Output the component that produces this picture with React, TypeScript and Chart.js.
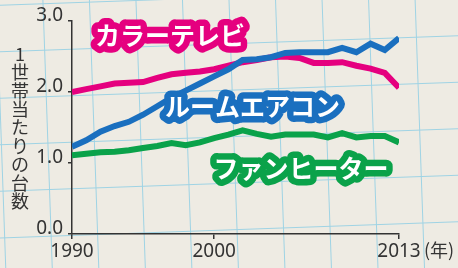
import React, { useEffect, useRef } from "react";
import { Chart, registerables } from "chart.js";

Chart.register(...registerables);

// ---- data ----
const years = [
  1990, 1991, 1992, 1993, 1994, 1995, 1996, 1997, 1998, 1999, 2000, 2001,
  2002, 2003, 2004, 2005, 2006, 2007, 2008, 2009, 2010, 2011, 2012, 2013,
];
const colorTV = [
  2.0, 2.04, 2.08, 2.12, 2.13, 2.14, 2.2, 2.25, 2.27, 2.29, 2.32, 2.37,
  2.42, 2.45, 2.49, 2.5, 2.48, 2.41, 2.41, 2.42, 2.37, 2.33, 2.27, 2.06,
];
const airConditioner = [
  1.23, 1.32, 1.44, 1.52, 1.58, 1.68, 1.8, 1.92, 2.02, 2.12, 2.22, 2.32,
  2.45, 2.46, 2.49, 2.55, 2.56, 2.56, 2.56, 2.62, 2.56, 2.68, 2.59, 2.76,
];
const fanHeater = [
  1.11, 1.13, 1.15, 1.16, 1.18, 1.21, 1.24, 1.28, 1.25, 1.29, 1.35, 1.4,
  1.46, 1.41, 1.37, 1.4, 1.4, 1.4, 1.36, 1.42, 1.36, 1.38, 1.38, 1.29,
];
const seriesNames = ["カラーテレビ", "ルームエアコン", "ファンヒーター"];
const xTickValues = [1990, 2000, 2013];
const yTickValues = [0, 1, 2, 3];
const yTitle = "1世帯当たりの台数";
const xUnit = "(年)";

// ---- styles ----
const PINK = "#e5007f";
const BLUE = "#1a6fbf";
const GREEN = "#0aa24a";
const INK = "#333333";

// label anchors in data coordinates (year, value)
const labelAnchors = [
  { x: 1996.9, y: 2.8, color: PINK },
  { x: 2002.7, y: 1.8, color: BLUE },
  { x: 2006.1, y: 0.92, color: GREEN },
];

const paperPlugin = {
  id: "paper",
  beforeDraw(chart: any) {
    const { ctx, width, height } = chart;
    ctx.save();
    ctx.fillStyle = "#eeebe3";
    ctx.fillRect(0, 0, width, height);
    ctx.translate(96, 188);
    ctx.rotate(-0.035);
    ctx.strokeStyle = "#9fd3e4";
    ctx.lineWidth = 1;
    const s = 46.5;
    for (let k = -14; k <= 14; k++) {
      ctx.beginPath();
      ctx.moveTo(k * s, -700);
      ctx.lineTo(k * s, 700);
      ctx.stroke();
      ctx.beginPath();
      ctx.moveTo(-700, k * s);
      ctx.lineTo(700, k * s);
      ctx.stroke();
    }
    ctx.restore();
  },
};

const labelPlugin = {
  id: "seriesLabels",
  afterDatasetsDraw(chart: any) {
    const { ctx } = chart;
    const xs = chart.scales.x;
    const ys = chart.scales.y;
    ctx.save();
    ctx.font = 'bold 25px "Noto Sans CJK JP"';
    ctx.textAlign = "center";
    ctx.textBaseline = "middle";
    ctx.lineJoin = "round";
    labelAnchors.forEach((a, i) => {
      const px = xs.getPixelForValue(a.x);
      const py = ys.getPixelForValue(a.y);
      ctx.lineWidth = 13;
      ctx.strokeStyle = a.color;
      ctx.strokeText(seriesNames[i], px, py);
      ctx.fillStyle = "#ffffff";
      ctx.fillText(seriesNames[i], px, py);
    });
    ctx.restore();
  },
  afterDraw(chart: any) {
    const { ctx } = chart;
    const xs = chart.scales.x;
    ctx.save();
    ctx.fillStyle = INK;
    ctx.font = '18px "Noto Sans CJK JP"';
    ctx.textAlign = "center";
    ctx.textBaseline = "middle";
    const chars = Array.from(yTitle);
    chars.forEach((c, i) => {
      ctx.fillText(c, 20, 54 + i * 18.4);
    });
    ctx.font = '18px "Noto Sans CJK JP"';
    ctx.textAlign = "left";
    ctx.fillText(xUnit, xs.getPixelForValue(2013) + 25, 250);
    ctx.restore();
  },
};

export default function App() {
  const ref = useRef<HTMLCanvasElement | null>(null);
  useEffect(() => {
    if (!ref.current) return;
    const tickFont = { family: '"Noto Sans", sans-serif', size: 19 };
    const chart = new Chart(ref.current, {
      type: "line",
      data: {
        labels: years,
        datasets: [
          {
            label: seriesNames[0],
            data: years.map((y, i) => ({ x: y, y: colorTV[i] })),
            borderColor: PINK,
            borderWidth: 6,
            pointRadius: 0,
            tension: 0,
            order: 1,
          },
          {
            label: seriesNames[1],
            data: years.map((y, i) => ({ x: y, y: airConditioner[i] })),
            borderColor: BLUE,
            borderWidth: 6,
            pointRadius: 0,
            tension: 0,
            order: 0,
          },
          {
            label: seriesNames[2],
            data: years.map((y, i) => ({ x: y, y: fanHeater[i] })),
            borderColor: GREEN,
            borderWidth: 6,
            pointRadius: 0,
            tension: 0,
            order: 2,
          },
        ],
      },
      options: {
        animation: false,
        responsive: true,
        maintainAspectRatio: false,
        layout: { padding: { top: 21, right: 59, left: 0, bottom: 0 } },
        plugins: { legend: { display: false }, tooltip: { enabled: false } },
        scales: {
          x: {
            type: "linear",
            min: 1990,
            max: 2013,
            afterBuildTicks: (s: any) => {
              s.ticks = xTickValues.map((v) => ({ value: v }));
            },
            grid: {
              display: true,
              drawOnChartArea: false,
              drawTicks: true,
              tickLength: 5,
              color: INK,
              lineWidth: 1.5,
            },
            border: { display: true, color: INK, width: 1.5 },
            ticks: {
              color: INK,
              font: tickFont,
              padding: 1,
              maxRotation: 0,
              autoSkip: false,
              callback: (v: any) => String(v),
            },
            afterFit: (s: any) => {
              s.height = 34;
            },
          },
          y: {
            min: 0,
            max: 3,
            afterBuildTicks: (s: any) => {
              s.ticks = yTickValues.map((v) => ({ value: v }));
            },
            grid: {
              display: true,
              drawOnChartArea: false,
              drawTicks: true,
              tickLength: 4,
              color: INK,
              lineWidth: 1.5,
            },
            border: { display: true, color: INK, width: 1.5 },
            ticks: {
              color: INK,
              font: tickFont,
              padding: 5,
              labelOffset: -5,
              callback: (v: any) => Number(v).toFixed(1),
            },
            afterFit: (s: any) => {
              s.width = 72;
            },
          },
        },
      },
      plugins: [paperPlugin, labelPlugin],
    });
    return () => chart.destroy();
  }, []);

  return (
    <div style={{ position: "fixed", left: 0, top: 0, width: 458, height: 268 }}>
      <canvas ref={ref} />
    </div>
  );
}
